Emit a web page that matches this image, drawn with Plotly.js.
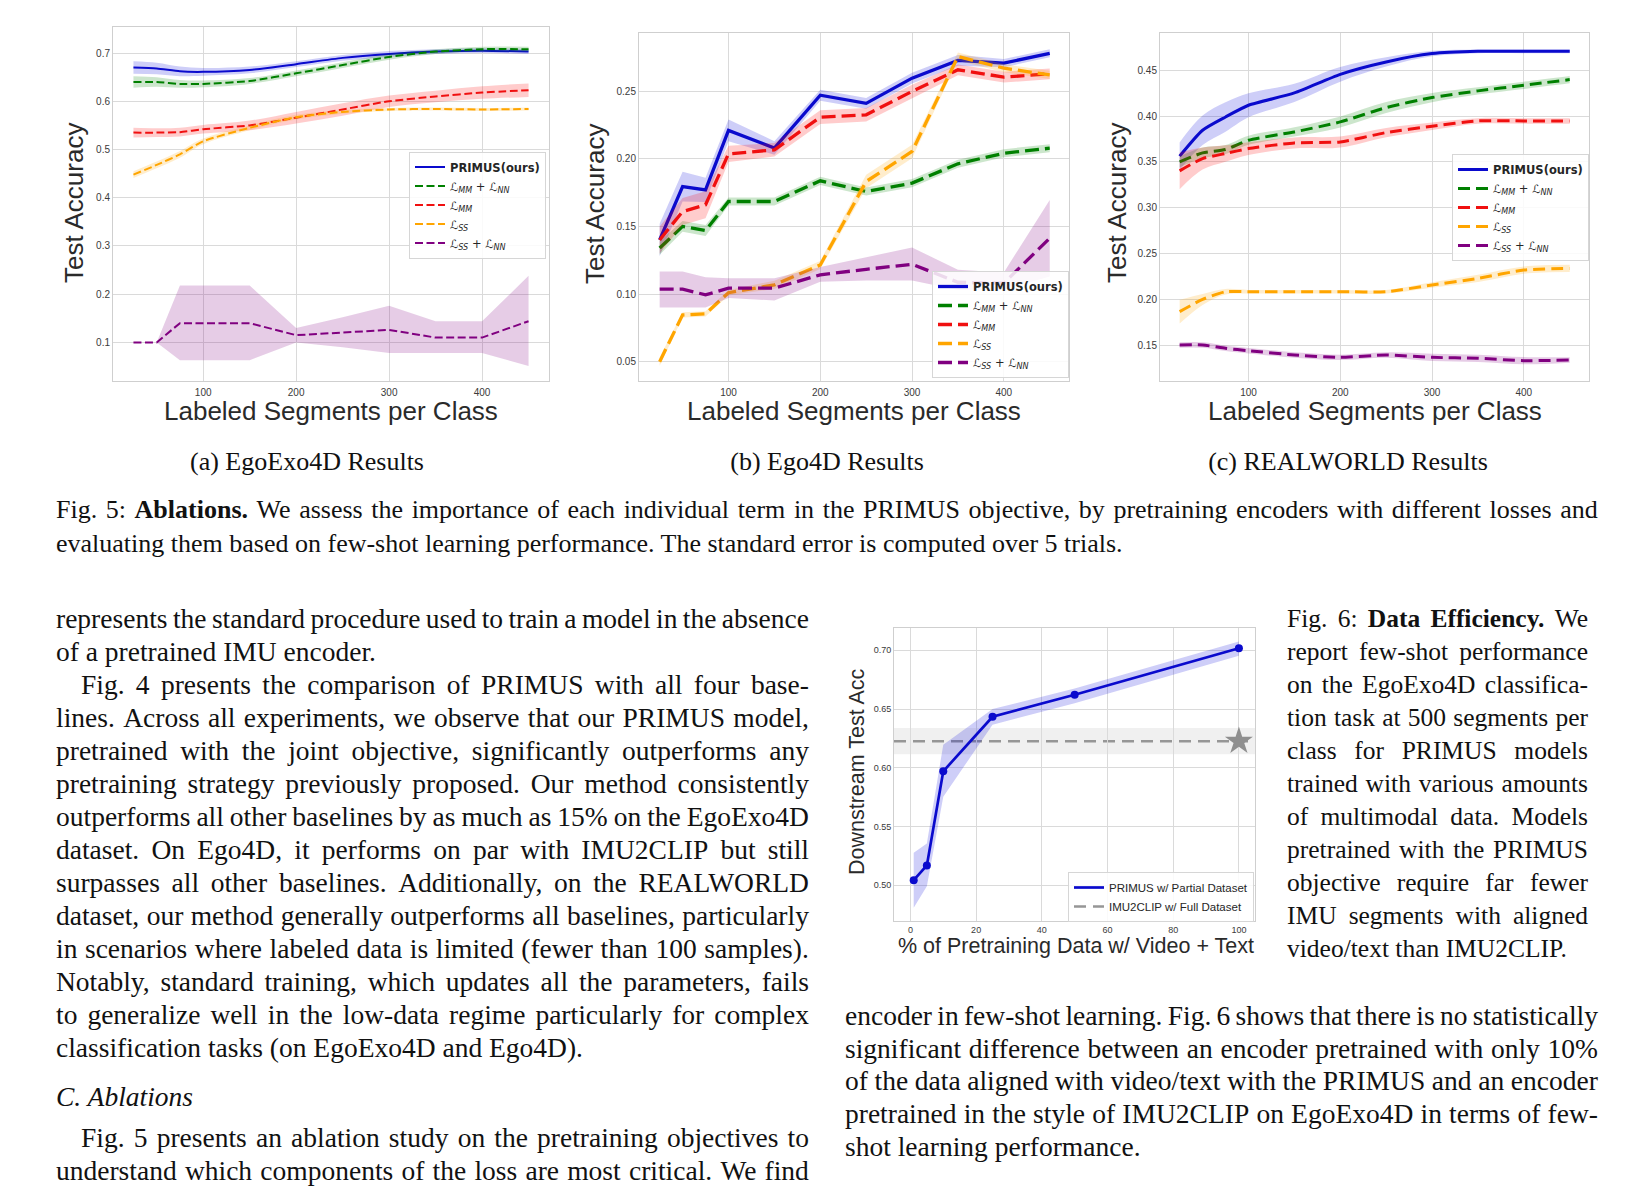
<!DOCTYPE html>
<html><head><meta charset="utf-8">
<script src="https://cdn.plot.ly/plotly-3.0.1.min.js"></script>
<style>
body{margin:0;background:#fff;}
#page{position:relative;width:1652px;height:1190px;overflow:hidden;background:#fff;}
#plot{position:absolute;left:0;top:0;width:1652px;height:1190px;}
#txt{position:absolute;left:0;top:0;width:1652px;height:1190px;pointer-events:none;}
.ln{position:absolute;font-family:"Liberation Serif","Times New Roman",serif;line-height:33px;height:33px;white-space:nowrap;color:#111;}
.j{display:flex;justify-content:space-between;}
.c{text-align:center;}
</style></head><body><div id="page"><div id="plot"></div><div id="txt"></div></div>
<script>
// ---------------- DATA ----------------
const segments = [25, 50, 75, 100, 150, 200, 250, 300, 350, 400, 450];
const xTicks = [100, 200, 300, 400];

// (a) EgoExo4D
const a_primus     = [0.670, 0.668, 0.662, 0.661, 0.665, 0.677, 0.690, 0.698, 0.703, 0.705, 0.703];
const a_primus_err = [0.013, 0.012, 0.010, 0.008, 0.007, 0.006, 0.006, 0.006, 0.005, 0.005, 0.005];
const a_mmnn       = [0.640, 0.640, 0.636, 0.636, 0.642, 0.658, 0.675, 0.692, 0.703, 0.708, 0.708];
const a_mmnn_err   = [0.012, 0.010, 0.008, 0.007, 0.006, 0.006, 0.006, 0.006, 0.005, 0.005, 0.005];
const a_mm         = [0.535, 0.535, 0.536, 0.542, 0.550, 0.566, 0.583, 0.600, 0.610, 0.618, 0.623];
const a_mm_err     = [0.010, 0.009, 0.009, 0.009, 0.010, 0.012, 0.013, 0.012, 0.012, 0.013, 0.014];
const a_ss         = [0.448, 0.468, 0.490, 0.517, 0.545, 0.567, 0.578, 0.583, 0.584, 0.583, 0.584];
const a_ss_err     = [0.007, 0.007, 0.007, 0.006, 0.005, 0.005, 0.004, 0.003, 0.003, 0.003, 0.003];
const a_ssnn       = [0.100, 0.100, 0.140, 0.140, 0.140, 0.115, 0.120, 0.126, 0.110, 0.110, 0.144];
const a_ssnn_lo    = [0.100, 0.100, 0.063, 0.063, 0.063, 0.100, 0.090, 0.078, 0.078, 0.078, 0.051];
const a_ssnn_hi    = [0.100, 0.100, 0.218, 0.218, 0.218, 0.130, 0.152, 0.176, 0.144, 0.144, 0.238];
const a_yTicks = [0.1, 0.2, 0.3, 0.4, 0.5, 0.6, 0.7];

// (b) Ego4D
const b_primus     = [0.140, 0.1795, 0.177, 0.221, 0.208, 0.247, 0.241, 0.2596, 0.2727, 0.2707, 0.278];
const b_primus_err = [0.012, 0.011, 0.009, 0.008, 0.005, 0.004, 0.004, 0.004, 0.004, 0.003, 0.003];
const b_mmnn       = [0.134, 0.150, 0.147, 0.1684, 0.1684, 0.1837, 0.1758, 0.182, 0.1963, 0.2041, 0.2078];
const b_mmnn_err   = [0.005, 0.004, 0.004, 0.003, 0.003, 0.003, 0.003, 0.003, 0.003, 0.003, 0.003];
const b_mm         = [0.140, 0.161, 0.166, 0.2036, 0.2066, 0.2308, 0.2325, 0.2498, 0.2658, 0.2604, 0.2628];
const b_mm_err     = [0.010, 0.010, 0.010, 0.006, 0.005, 0.005, 0.005, 0.005, 0.004, 0.004, 0.004];
const b_ss         = [0.050, 0.0846, 0.0853, 0.101, 0.1068, 0.1215, 0.1832, 0.2054, 0.2756, 0.267, 0.262];
const b_ss_err     = [0.003, 0.002, 0.002, 0.002, 0.003, 0.003, 0.005, 0.005, 0.003, 0.003, 0.003];
const b_ssnn       = [0.1036, 0.1036, 0.0994, 0.1043, 0.1043, 0.1142, 0.1183, 0.122, 0.1087, 0.108, 0.1413];
const b_ssnn_lo    = [0.090, 0.090, 0.090, 0.097, 0.0952, 0.109, 0.110, 0.110, 0.103, 0.1033, 0.113];
const b_ssnn_hi    = [0.1166, 0.1166, 0.1124, 0.1117, 0.1117, 0.120, 0.1272, 0.1344, 0.118, 0.116, 0.1696];
const b_yTicks = [0.05, 0.10, 0.15, 0.20, 0.25];

// (c) REALWORLD
const c_primus     = [0.3562, 0.3845, 0.399, 0.4118, 0.4253, 0.4456, 0.4591, 0.4682, 0.4707, 0.4707, 0.4707];
const c_primus_err = [0.015, 0.016, 0.016, 0.013, 0.010, 0.008, 0.005, 0.003, 0.002, 0.002, 0.002];
const c_mmnn       = [0.350, 0.3598, 0.3635, 0.3736, 0.3827, 0.3936, 0.4093, 0.4202, 0.4275, 0.4336, 0.4398];
const c_mmnn_err   = [0.006, 0.006, 0.005, 0.005, 0.005, 0.006, 0.006, 0.005, 0.004, 0.004, 0.004];
const c_mm         = [0.3402, 0.3536, 0.3591, 0.3645, 0.3707, 0.3718, 0.382, 0.3889, 0.3947, 0.3947, 0.3947];
const c_mm_err     = [0.020, 0.012, 0.009, 0.007, 0.006, 0.006, 0.005, 0.004, 0.003, 0.003, 0.003];
const c_ss         = [0.1864, 0.1998, 0.2082, 0.2082, 0.2082, 0.2082, 0.2082, 0.2155, 0.2227, 0.2318, 0.2336];
const c_ss_err     = [0.013, 0.006, 0.003, 0.002, 0.002, 0.002, 0.002, 0.003, 0.004, 0.004, 0.004];
const c_ssnn       = [0.150, 0.150, 0.1464, 0.1438, 0.1391, 0.1365, 0.1391, 0.1365, 0.1355, 0.1329, 0.1336];
const c_ssnn_err   = [0.003, 0.003, 0.003, 0.003, 0.003, 0.003, 0.003, 0.004, 0.004, 0.004, 0.003];
const c_yTicks = [0.15, 0.20, 0.25, 0.30, 0.35, 0.40, 0.45];

// Fig. 6 data efficiency
const pctData      = [1, 5, 10, 25, 50, 100];
const pctAcc       = [0.5043, 0.5168, 0.597, 0.6434, 0.6622, 0.7017];
const pctAccLo     = [0.4807, 0.499, 0.5754, 0.6366, 0.655, 0.6954];
const pctAccHi     = [0.5276, 0.5356, 0.6195, 0.650, 0.6675, 0.7074];
const imu2clipPct  = [100];
const imu2clipAcc  = 0.6226;
const imu2clipErr  = 0.0112;
const f6_xTicks = [0, 20, 40, 60, 80, 100];
const f6_yTicks = [0.50, 0.55, 0.60, 0.65, 0.70];

const seriesNames = ['<b>PRIMUS(ours)</b>',
  '<i>ℒ<sub>MM</sub></i> + <i>ℒ<sub>NN</sub></i>',
  '<i>ℒ<sub>MM</sub></i>',
  '<i>ℒ<sub>SS</sub></i>',
  '<i>ℒ<sub>SS</sub></i> + <i>ℒ<sub>NN</sub></i>'];

// ---------------- PAPER TEXT ----------------
// column: [left, width, font size]
const cols = {cap: [56, 1542, 26], left: [56, 753, 27.5], f6: [1287, 301, 25.5], right: [845, 753, 27.5]};
const subcaps = [[307, '(a) EgoExo4D Results'], [827, '(b) Ego4D Results'], [1348, '(c) REALWORLD Results']];
// [column, center y, justified?, indent?, html]
const lines = [
  ['cap', 510, 1, 0, 'Fig. 5: <b>Ablations.</b> We assess the importance of each individual term in the PRIMUS objective, by pretraining encoders with different losses and'],
  ['cap', 543.6, 0, 0, 'evaluating them based on few-shot learning performance. The standard error is computed over 5 trials.'],
  ['left', 618.5, 1, 0, 'represents the standard procedure used to train a model in the absence'],
  ['left', 651.5, 0, 0, 'of a pretrained IMU encoder.'],
  ['left', 684.5, 1, 1, 'Fig. 4 presents the comparison of PRIMUS with all four base-'],
  ['left', 717.5, 1, 0, 'lines. Across all experiments, we observe that our PRIMUS model,'],
  ['left', 750.5, 1, 0, 'pretrained with the joint objective, significantly outperforms any'],
  ['left', 783.5, 1, 0, 'pretraining strategy previously proposed. Our method consistently'],
  ['left', 816.5, 1, 0, 'outperforms all other baselines by as much as 15% on the EgoExo4D'],
  ['left', 849.5, 1, 0, 'dataset. On Ego4D, it performs on par with IMU2CLIP but still'],
  ['left', 882.5, 1, 0, 'surpasses all other baselines. Additionally, on the REALWORLD'],
  ['left', 915.5, 1, 0, 'dataset, our method generally outperforms all baselines, particularly'],
  ['left', 948.5, 1, 0, 'in scenarios where labeled data is limited (fewer than 100 samples).'],
  ['left', 981.5, 1, 0, 'Notably, standard training, which updates all the parameters, fails'],
  ['left', 1014.5, 1, 0, 'to generalize well in the low-data regime particularly for complex'],
  ['left', 1047.5, 0, 0, 'classification tasks (on EgoExo4D and Ego4D).'],
  ['left', 1096.8, 0, 0, '<i>C. Ablations</i>'],
  ['left', 1137.9, 1, 1, 'Fig. 5 presents an ablation study on the pretraining objectives to'],
  ['left', 1170.5, 1, 0, 'understand which components of the loss are most critical. We find'],
  ['f6', 618.5, 1, 0, 'Fig. 6: <b>Data</b> <b>Efficiency.</b> We'],
  ['f6', 651.5, 1, 0, 'report few-shot performance'],
  ['f6', 684.5, 1, 0, 'on the EgoExo4D classifica-'],
  ['f6', 717.5, 1, 0, 'tion task at 500 segments per'],
  ['f6', 750.5, 1, 0, 'class for PRIMUS models'],
  ['f6', 783.5, 1, 0, 'trained with various amounts'],
  ['f6', 816.5, 1, 0, 'of multimodal data. Models'],
  ['f6', 849.5, 1, 0, 'pretrained with the PRIMUS'],
  ['f6', 882.5, 1, 0, 'objective require far fewer'],
  ['f6', 915.5, 1, 0, 'IMU segments with aligned'],
  ['f6', 948.5, 0, 0, 'video/text than IMU2CLIP.'],
  ['right', 1015.7, 1, 0, 'encoder in few-shot learning. Fig. 6 shows that there is no statistically'],
  ['right', 1048.5, 1, 0, 'significant difference between an encoder pretrained with only 10%'],
  ['right', 1081.3, 1, 0, 'of the data aligned with video/text with the PRIMUS and an encoder'],
  ['right', 1114.1, 1, 0, 'pretrained in the style of IMU2CLIP on EgoExo4D in terms of few-'],
  ['right', 1147.0, 0, 0, 'shot learning performance.']
];
const txt = document.getElementById('txt');
const INDENT = 25, HALF = 17;
function mk(cls, left, top, width, fs) {
  const d = document.createElement('div');
  d.className = cls; d.style.left = left + 'px'; d.style.top = top + 'px';
  d.style.fontSize = fs + 'px';
  if (width) d.style.width = width + 'px';
  txt.appendChild(d); return d;
}
subcaps.forEach(s => { const d = mk('ln c', s[0] - 250, 461.5 - HALF, 500, 26); d.innerHTML = s[1]; });
lines.forEach(l => {
  const c = cols[l[0]];
  const left = c[0] + (l[3] ? INDENT : 0), width = c[1] - (l[3] ? INDENT : 0);
  const d = mk('ln' + (l[2] ? ' j' : ''), left, l[1] - HALF, width, c[2]);
  if (l[2]) {
    l[4].split(' ').forEach(w => { const s = document.createElement('span'); s.style.fontSize = c[2] + 'px'; s.innerHTML = w; d.appendChild(s); });
  } else d.innerHTML = l[4];
});

// ---------------- STYLE / LAYOUT ----------------
const W = 1652, H = 1190;
const PX = x => x / W, PY = y => 1 - y / H;
const COL = {
  blue: ['#0a0acd', 'rgba(10,10,220,0.2)'],
  green: ['#008000', 'rgba(0,128,0,0.2)'],
  red: ['#f01010', 'rgba(255,0,0,0.2)'],
  orange: ['#ffa500', 'rgba(255,165,0,0.2)'],
  purple: ['#800080', 'rgba(128,0,128,0.2)']
};
const traces = [];
const sum = (m, e, s) => m.map((v, i) => v + s * e[i]);
function addSeries(ax, x, y, lo, hi, col, name, legend, width, dash, shape) {
  const xa = 'x' + ax, ya = 'y' + ax;
  traces.push({x: x, y: lo, xaxis: xa, yaxis: ya, mode: 'lines', line: {width: 0, color: col[1], shape: shape}, showlegend: false, hoverinfo: 'skip'});
  traces.push({x: x, y: hi, xaxis: xa, yaxis: ya, mode: 'lines', line: {width: 0, color: col[1], shape: shape}, fill: 'tonexty', fillcolor: col[1], showlegend: false, hoverinfo: 'skip'});
  traces.push({x: x, y: y, xaxis: xa, yaxis: ya, mode: 'lines', name: name, legend: legend,
    line: {color: col[0], width: width, dash: dash, shape: shape, smoothing: 0.6}});
}
// (a)
const dA = '8px,3.5px';
addSeries('', segments, a_primus, sum(a_primus, a_primus_err, -1), sum(a_primus, a_primus_err, 1), COL.blue, seriesNames[0], 'legend', 2, 'solid', 'spline');
addSeries('', segments, a_mmnn, sum(a_mmnn, a_mmnn_err, -1), sum(a_mmnn, a_mmnn_err, 1), COL.green, seriesNames[1], 'legend', 2, dA, 'spline');
addSeries('', segments, a_mm, sum(a_mm, a_mm_err, -1), sum(a_mm, a_mm_err, 1), COL.red, seriesNames[2], 'legend', 2, dA, 'spline');
addSeries('', segments, a_ss, sum(a_ss, a_ss_err, -1), sum(a_ss, a_ss_err, 1), COL.orange, seriesNames[3], 'legend', 2, dA, 'spline');
addSeries('', segments, a_ssnn, a_ssnn_lo, a_ssnn_hi, COL.purple, seriesNames[4], 'legend', 2, dA, 'linear');
// (b)
const dB = '14px,6px';
addSeries('2', segments, b_primus, sum(b_primus, b_primus_err, -1), sum(b_primus, b_primus_err, 1), COL.blue, seriesNames[0], 'legend2', 3.3, 'solid', 'linear');
addSeries('2', segments, b_mmnn, sum(b_mmnn, b_mmnn_err, -1), sum(b_mmnn, b_mmnn_err, 1), COL.green, seriesNames[1], 'legend2', 3.3, dB, 'linear');
addSeries('2', segments, b_mm, sum(b_mm, b_mm_err, -1), sum(b_mm, b_mm_err, 1), COL.red, seriesNames[2], 'legend2', 3.3, dB, 'linear');
addSeries('2', segments, b_ss, sum(b_ss, b_ss_err, -1), sum(b_ss, b_ss_err, 1), COL.orange, seriesNames[3], 'legend2', 3.3, dB, 'linear');
addSeries('2', segments, b_ssnn, b_ssnn_lo, b_ssnn_hi, COL.purple, seriesNames[4], 'legend2', 3.3, dB, 'linear');
// (c)
const dC = '12px,6px';
addSeries('3', segments, c_primus, sum(c_primus, c_primus_err, -1), sum(c_primus, c_primus_err, 1), COL.blue, seriesNames[0], 'legend3', 3, 'solid', 'spline');
addSeries('3', segments, c_mmnn, sum(c_mmnn, c_mmnn_err, -1), sum(c_mmnn, c_mmnn_err, 1), COL.green, seriesNames[1], 'legend3', 3, dC, 'spline');
addSeries('3', segments, c_mm, sum(c_mm, c_mm_err, -1), sum(c_mm, c_mm_err, 1), COL.red, seriesNames[2], 'legend3', 3, dC, 'spline');
addSeries('3', segments, c_ss, sum(c_ss, c_ss_err, -1), sum(c_ss, c_ss_err, 1), COL.orange, seriesNames[3], 'legend3', 3, dC, 'spline');
addSeries('3', segments, c_ssnn, sum(c_ssnn, c_ssnn_err, -1), sum(c_ssnn, c_ssnn_err, 1), COL.purple, seriesNames[4], 'legend3', 3, dC, 'spline');
// Fig 6
traces.push({x: pctData, y: pctAccLo, xaxis: 'x4', yaxis: 'y4', mode: 'lines', line: {width: 0, color: COL.blue[1]}, showlegend: false, hoverinfo: 'skip'});
traces.push({x: pctData, y: pctAccHi, xaxis: 'x4', yaxis: 'y4', mode: 'lines', line: {width: 0, color: COL.blue[1]}, fill: 'tonexty', fillcolor: 'rgba(10,10,220,0.2)', showlegend: false, hoverinfo: 'skip'});
traces.push({x: pctData, y: pctAcc, xaxis: 'x4', yaxis: 'y4', mode: 'lines', name: 'PRIMUS w/ Partial Dataset', legend: 'legend4',
  line: {color: '#0a0acd', width: 2.7}});
traces.push({x: pctData, y: pctAcc, xaxis: 'x4', yaxis: 'y4', mode: 'markers', showlegend: false,
  marker: {size: 8, color: '#0a0acd'}});
// legend-only entry for the IMU2CLIP reference line (the line itself is a shape at imu2clipAcc)
traces.push({x: [null], y: [null], xaxis: 'x4', yaxis: 'y4', mode: 'lines', name: 'IMU2CLIP w/ Full Dataset', legend: 'legend4',
  line: {color: '#969696', width: 2.6, dash: '12px,7px'}});
traces.push({x: imu2clipPct, y: [imu2clipAcc], xaxis: 'x4', yaxis: 'y4', mode: 'markers', showlegend: false,
  marker: {symbol: 'star', size: 21, color: '#8f8f8f'}});

const GRID = '#dadada', EDGE = '#cfcfcf', TICKC = '#3a3a3a';
const X4RANGE = [-5, 104.9];
function xAx(d0, d1, range, vals, fs, anchor) {
  return {domain: [PX(d0), PX(d1)], range: range, tickvals: vals, anchor: anchor, showgrid: true, gridcolor: GRID, gridwidth: 1,
    zeroline: false, showline: true, linecolor: EDGE, linewidth: 1, mirror: true, ticks: '',
    tickfont: {family: 'Liberation Sans, Arial, sans-serif', size: fs, color: TICKC}, fixedrange: true};
}
function yAx(t0, t1, range, vals, fmt, fs, anchor) {
  const o = xAx(0, 1, range, vals, fs, anchor);
  o.domain = [PY(t1), PY(t0)];
  o.tickformat = fmt;
  return o;
}
const legBase = (x, y, ya, fs, fam) => ({x: PX(x), y: PY(y), xanchor: 'left', yanchor: ya, bgcolor: 'rgba(255,255,255,0.85)',
  bordercolor: '#d6d6d6', borderwidth: 1, font: {family: fam, size: fs, color: '#262626'}, itemwidth: 30, tracegroupgap: 0,
  traceorder: 'normal'});

const annFont = s => ({family: 'Liberation Sans, Arial, sans-serif', size: s, color: '#2a2a2a'});
const ann = (x, y, text, s, ang) => ({xref: 'paper', yref: 'paper', x: PX(x), y: PY(y), text: text, showarrow: false,
  xanchor: 'center', yanchor: 'middle', font: annFont(s), textangle: ang || 0});

const xa = xAx(113, 549, [3, 472], xTicks, 10, 'y'); xa.ticklabelstandoff = 2;
const xa2 = xAx(639, 1069, [2.5, 471], xTicks, 10, 'y2'); xa2.ticklabelstandoff = 2;
const xa3 = xAx(1160, 1589, [3.6, 471], xTicks, 10, 'y3'); xa3.ticklabelstandoff = 2;
const layout = {
  width: W, height: H, margin: {l: 0, r: 0, t: 0, b: 0}, paper_bgcolor: 'rgba(0,0,0,0)', plot_bgcolor: '#ffffff',
  xaxis: xa,
  yaxis: yAx(27, 381, [0.020, 0.754], a_yTicks, '.1f', 10, 'x'),
  xaxis2: xa2,
  yaxis2: yAx(33, 381, [0.0357, 0.293], b_yTicks, '.2f', 10, 'x2'),
  xaxis3: xa3,
  yaxis3: yAx(33, 381, [0.1107, 0.4907], c_yTicks, '.2f', 10, 'x3'),
  xaxis4: xAx(894, 1255, X4RANGE, f6_xTicks, 9, 'y4'),
  yaxis4: yAx(628, 921, [0.4695, 0.719], f6_yTicks, '.2f', 9, 'x4'),
  showlegend: true,
  legend: legBase(409, 205, 'middle', 11.5, 'DejaVu Sans, sans-serif'),
  legend2: legBase(932, 378, 'bottom', 11.5, 'DejaVu Sans, sans-serif'),
  legend3: legBase(1452, 207.5, 'middle', 11.5, 'DejaVu Sans, sans-serif'),
  legend4: legBase(1068, 897, 'middle', 11.5, 'Liberation Sans, Arial, sans-serif'),
  shapes: [
    {type: 'rect', xref: 'x4', x0: X4RANGE[0], x1: X4RANGE[1], yref: 'y4', y0: imu2clipAcc - imu2clipErr, y1: imu2clipAcc + imu2clipErr,
      fillcolor: 'rgba(128,128,128,0.12)', line: {width: 0}, layer: 'below'},
    {type: 'line', xref: 'x4', x0: X4RANGE[0], x1: X4RANGE[1], yref: 'y4', y0: imu2clipAcc, y1: imu2clipAcc,
      line: {color: '#969696', width: 2.6, dash: '12px,7px'}, layer: 'below'}
  ],
  annotations: [
    ann(74, 203, 'Test Accuracy', 26, -90),
    ann(595, 204, 'Test Accuracy', 26, -90),
    ann(1117, 203, 'Test Accuracy', 26, -90),
    ann(331, 411, 'Labeled Segments per Class', 26),
    ann(854, 411, 'Labeled Segments per Class', 26),
    ann(1374.5, 411, 'Labeled Segments per Class', 26),
    ann(857, 772, 'Downstream Test Acc', 21.5, -90),
    ann(1076, 946, '% of Pretraining Data w/ Video + Text', 21.5)
  ]
};
Plotly.newPlot('plot', traces, layout, {staticPlot: true, displayModeBar: false});
</script></body></html>
